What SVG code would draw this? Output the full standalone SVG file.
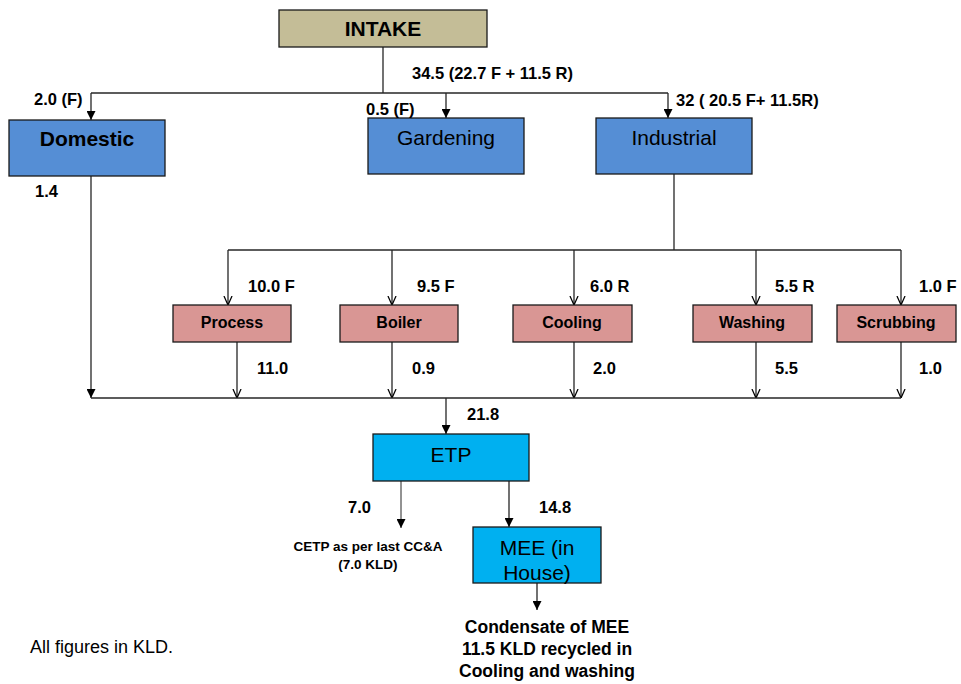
<svg xmlns="http://www.w3.org/2000/svg" width="961" height="684" viewBox="0 0 961 684">
<defs>
<marker id="fa" viewBox="0 0 10 10" refX="10" refY="5" markerWidth="9" markerHeight="9" markerUnits="userSpaceOnUse" orient="auto">
<path d="M0,0 L10,5 L0,10 Z" fill="#000"/>
</marker>
<marker id="va" viewBox="0 0 10 10" refX="10" refY="5" markerWidth="9" markerHeight="16" markerUnits="userSpaceOnUse" orient="auto">
<path d="M0,0.5 L10,5 L0,9.5" fill="none" stroke="#000" stroke-width="1.4"/>
</marker>
</defs>
<style>
text{font-family:"Liberation Sans",Arial,sans-serif;fill:#000}
.b{font-weight:bold}
.lb{font-weight:bold;font-size:16.5px}
.c{text-anchor:middle}
.ln{fill:none;stroke:#262626;stroke-width:1.3}
.box{stroke:#1a1a1a;stroke-width:1.3}
.blue{fill:#558ED5}
.pink{fill:#D99694}
.cyan{fill:#00B0F0}
</style>
<rect width="961" height="684" fill="#fff"/>
<g id="connectors">
<path class="ln" d="M383,47 V93"/>
<path class="ln" d="M91,93 H668"/>
<path class="ln" d="M91,93 V120" marker-end="url(#fa)"/>
<path class="ln" d="M446,93 V118" marker-end="url(#fa)"/>
<path class="ln" d="M668,93 V118" marker-end="url(#fa)"/>
<path class="ln" d="M91,176 V398" marker-end="url(#fa)"/>
<path class="ln" d="M674,174 V250"/>
<path class="ln" d="M228,250 H901"/>
<path class="ln" d="M228,250 V305" marker-end="url(#va)"/>
<path class="ln" d="M392,250 V305" marker-end="url(#va)"/>
<path class="ln" d="M574,250 V305" marker-end="url(#va)"/>
<path class="ln" d="M756,250 V305" marker-end="url(#va)"/>
<path class="ln" d="M901,250 V305" marker-end="url(#va)"/>
<path class="ln" d="M237,342 V398" marker-end="url(#va)"/>
<path class="ln" d="M392,342 V398" marker-end="url(#va)"/>
<path class="ln" d="M574,342 V398" marker-end="url(#va)"/>
<path class="ln" d="M756,342 V398" marker-end="url(#va)"/>
<path class="ln" d="M901,342 V398" marker-end="url(#va)"/>
<path class="ln" d="M91,398 H901"/>
<path class="ln" d="M446,398 V434" marker-end="url(#fa)"/>
<path class="ln" d="M401,481 V528" marker-end="url(#fa)" style="stroke-width:1"/>
<path class="ln" d="M509,481 V527" marker-end="url(#fa)"/>
<path class="ln" d="M537,583 V610" marker-end="url(#fa)"/>
</g>
<g id="intake">
<rect class="box" x="279" y="10" width="208" height="37" fill="#C4BD97"/>
<text class="b c" x="383" y="36" font-size="21">INTAKE</text>
</g>
<g id="domestic">
<rect class="box blue" x="9" y="120" width="156" height="56"/>
<text class="b c" x="87" y="146" font-size="21">Domestic</text>
</g>
<g id="gardening">
<rect class="box blue" x="368" y="118" width="156" height="56"/>
<text class="c" x="446" y="145" font-size="21">Gardening</text>
</g>
<g id="industrial">
<rect class="box blue" x="596" y="118" width="156" height="56"/>
<text class="c" x="674" y="145" font-size="21">Industrial</text>
</g>
<g id="process">
<rect class="box pink" x="173" y="305" width="118" height="37"/>
<text class="b c" x="232" y="328" font-size="16">Process</text>
</g>
<g id="boiler">
<rect class="box pink" x="340" y="305" width="118" height="37"/>
<text class="b c" x="399" y="328" font-size="16">Boiler</text>
</g>
<g id="cooling">
<rect class="box pink" x="513" y="305" width="119" height="37"/>
<text class="b c" x="572" y="328" font-size="16">Cooling</text>
</g>
<g id="washing">
<rect class="box pink" x="693" y="305" width="119" height="37"/>
<text class="b c" x="752" y="328" font-size="16">Washing</text>
</g>
<g id="scrubbing">
<rect class="box pink" x="837" y="305" width="119" height="37"/>
<text class="b c" x="896" y="328" font-size="16">Scrubbing</text>
</g>
<g id="etp">
<rect class="box cyan" x="373" y="434" width="156" height="47"/>
<text class="c" x="451" y="462" font-size="21">ETP</text>
</g>
<g id="mee">
<rect class="box cyan" x="473" y="527" width="128" height="56"/>
<text class="c" x="537" y="555" font-size="21">MEE (in</text>
<text class="c" x="537" y="580" font-size="21">House)</text>
</g>
<g id="cetp">
<text class="b c" x="368" y="551" font-size="13.5">CETP as per last CC&amp;A</text>
<text class="b c" x="368" y="569" font-size="13.5">(7.0 KLD)</text>
</g>
<g id="condensate">
<text class="b c" x="547" y="633" font-size="17.5">Condensate of MEE</text>
<text class="b c" x="547" y="655" font-size="17.5">11.5 KLD recycled in</text>
<text class="b c" x="547" y="677" font-size="17.5">Cooling and washing</text>
</g>
<g id="labels">
<text class="lb" x="412" y="79">34.5 (22.7 F + 11.5 R)</text>
<text class="lb" x="34" y="105">2.0 (F)</text>
<text class="lb" x="366" y="115">0.5 (F)</text>
<text class="lb" x="676" y="106">32 ( 20.5 F+ 11.5R)</text>
<text class="lb" x="35" y="197">1.4</text>
<text class="lb" x="248" y="292">10.0 F</text>
<text class="lb" x="417" y="292">9.5 F</text>
<text class="lb" x="590" y="292">6.0 R</text>
<text class="lb" x="775" y="292">5.5 R</text>
<text class="lb" x="919" y="292">1.0 F</text>
<text class="lb" x="257" y="374">11.0</text>
<text class="lb" x="412" y="374">0.9</text>
<text class="lb" x="593" y="374">2.0</text>
<text class="lb" x="775" y="374">5.5</text>
<text class="lb" x="919" y="374">1.0</text>
<text class="lb" x="467" y="420">21.8</text>
<text class="lb" x="348" y="513">7.0</text>
<text class="lb" x="539" y="513">14.8</text>
<text x="30" y="653" font-size="18">All figures in KLD.</text>
</g>
</svg>
